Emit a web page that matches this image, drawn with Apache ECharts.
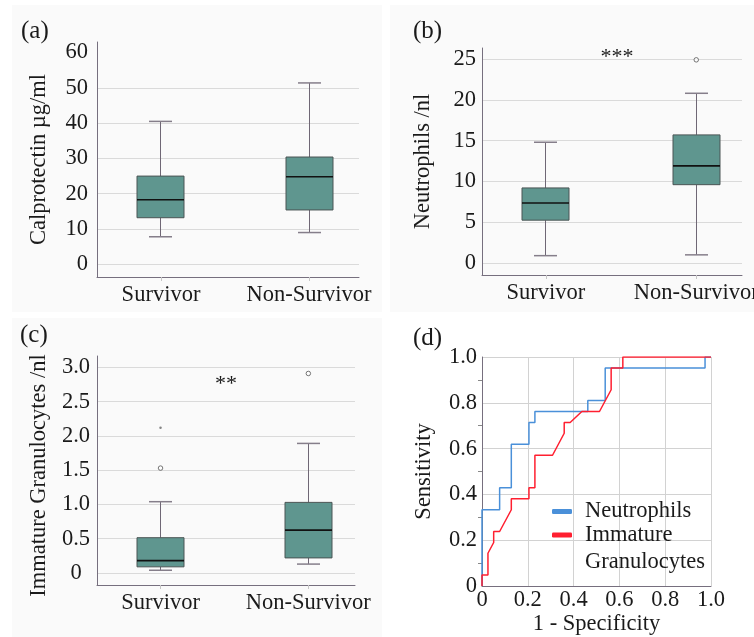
<!DOCTYPE html>
<html><head><meta charset="utf-8">
<script src="https://cdn.jsdelivr.net/npm/echarts@6/dist/echarts.min.js"></script>
<style>html,body{margin:0;padding:0;background:#fff}#c{width:754px;height:637px}</style>
</head><body><div id="c"></div>
<script>
// ---------------- data ----------------
const categories = ['Survivor', 'Non-Survivor'];
// each box: [lower whisker, Q1, median, Q3, upper whisker]
const calprotectinBoxes = [[7.8, 13.2, 18.3, 25.0, 40.5], [9.0, 15.4, 24.8, 30.4, 51.4]];
const neutrophilBoxes   = [[0.9, 5.25, 7.35, 9.2, 14.8], [1.0, 9.6, 11.9, 15.7, 20.8]];
const neutrophilOutliers = [[1, 24.9]];
const igBoxes = [[0.04, 0.09, 0.18, 0.515, 1.04], [0.13, 0.22, 0.625, 1.03, 1.89]];
const igOutliers = [[0, 1.53], [1, 2.91]];
const igExtremes = [[0, 2.12]];
const calTicks = [0, 10, 20, 30, 40, 50, 60];
const calGridTicks = [0, 10, 20, 30, 40, 50];
const neuTicks = [0, 5, 10, 15, 20, 25];
const igTicks = [0, 0.5, 1.0, 1.5, 2.0, 2.5, 3.0];
const rocTicks = [0, 0.2, 0.4, 0.6, 0.8, 1.0];
// ROC curves: [1 - specificity, sensitivity]
const rocNeutrophils = [[0,0],[0,0.333],[0.077,0.333],[0.077,0.429],[0.128,0.429],[0.128,0.619],
  [0.205,0.619],[0.205,0.714],[0.231,0.714],[0.231,0.762],[0.462,0.762],[0.462,0.810],
  [0.538,0.810],[0.538,0.952],[0.974,0.952],[0.974,1],[1,1]];
const rocIG = [[0,0],[0,0.048],[0.026,0.048],[0.026,0.143],[0.051,0.190],[0.051,0.238],
  [0.077,0.238],[0.128,0.333],[0.128,0.381],[0.205,0.381],[0.205,0.429],[0.231,0.429],
  [0.231,0.571],[0.308,0.571],[0.359,0.667],[0.359,0.714],[0.385,0.714],[0.436,0.762],
  [0.513,0.762],[0.564,0.857],[0.564,0.952],[0.615,0.952],[0.615,1],[1,1]];

// ---------------- style ----------------
const SERIF = '"Liberation Serif", "Times New Roman", serif';
const TXT = '#1a1a1a';
const AXIS = '#766f7e';
const GRIDC = '#dadada';
const BOXFILL = '#5f968f';
const BOXLINE = '#4a5454';
const WHISK = '#6f6775';
const BOXW = 47, CAPW = 23;

const chart = echarts.init(document.getElementById('c'));

function crisp(v) { return Math.round(v - 0.5) + 0.5; }

function boxRender(params, api) {
  const x = api.value(0);
  const pLo = api.coord([x, api.value(1)]);
  const pQ1 = api.coord([x, api.value(2)]);
  const pMed = api.coord([x, api.value(3)]);
  const pQ3 = api.coord([x, api.value(4)]);
  const pHi = api.coord([x, api.value(5)]);
  const cx = crisp(pLo[0]);
  const ws = {stroke: WHISK, lineWidth: 1};
  const cs = {stroke: '#857e8a', lineWidth: 1.5};
  return {type: 'group', children: [
    {type: 'line', shape: {x1: cx, y1: pHi[1], x2: cx, y2: pQ3[1]}, style: ws},
    {type: 'line', shape: {x1: cx, y1: pQ1[1], x2: cx, y2: pLo[1]}, style: ws},
    {type: 'line', shape: {x1: cx - CAPW / 2, y1: pHi[1], x2: cx + CAPW / 2, y2: pHi[1]}, style: cs},
    {type: 'line', shape: {x1: cx - CAPW / 2, y1: pLo[1], x2: cx + CAPW / 2, y2: pLo[1]}, style: cs},
    {type: 'rect', shape: {x: cx - BOXW / 2, y: pQ3[1], width: BOXW, height: pQ1[1] - pQ3[1]},
      style: {fill: BOXFILL, stroke: BOXLINE, lineWidth: 1}},
    {type: 'line', shape: {x1: cx - BOXW / 2, y1: pMed[1], x2: cx + BOXW / 2, y2: pMed[1]},
      style: {stroke: '#111', lineWidth: 1.6}}
  ]};
}

function boxData(boxes) { return boxes.map((b, i) => [i].concat(b)); }

function catXAxis(gi, min, max) {
  return {
    type: 'value', gridIndex: gi, min: min, max: max,
    axisLine: {show: true, onZero: false, lineStyle: {color: AXIS, width: 1}},
    axisTick: {show: true, customValues: [0, 1], length: 4, lineStyle: {color: '#c6c6c6'}},
    axisLabel: {customValues: [0, 1], formatter: v => categories[Math.round(v)],
      color: TXT, fontSize: 22.5, fontFamily: SERIF, margin: 7, hideOverlap: false},
    splitLine: {show: false}
  };
}

function valYAxis(gi, min, max, labelVals, gridVals, name, gap, margin, align, nameSize, namePad, fmt) {
  return {
    type: 'value', gridIndex: gi, min: min, max: max,
    axisLine: {show: true, onZero: false, lineStyle: {color: AXIS, width: 1}},
    axisTick: {show: false, customValues: gridVals},
    axisLabel: {customValues: labelVals, color: TXT, fontSize: 22.5, fontFamily: SERIF,
      margin: margin, align: align, formatter: fmt},
    splitLine: {show: true, lineStyle: {color: GRIDC, width: 1}},
    name: name, nameLocation: 'middle', nameGap: gap,
    nameTextStyle: {color: TXT, fontSize: nameSize, fontFamily: SERIF, padding: namePad}
  };
}

const bgRects = [
  [12, 5, 370, 307], [390, 5, 364, 307], [12, 318, 370, 319]
].map(r => ({type: 'rect', silent: true, z: -100,
  shape: {x: r[0], y: r[1], width: r[2], height: r[3]}, style: {fill: '#fafafa'}}));

function gtext(txt, x, y, size, align) {
  return {type: 'text', x: x, y: y, z: 10, silent: true,
    style: {text: txt, font: size + 'px ' + SERIF, fill: TXT, align: align || 'left', verticalAlign: 'middle'}};
}

const option = {
  backgroundColor: '#ffffff',
  animation: false,
  graphic: bgRects.concat([
    gtext('(a)', 21, 31, 25), gtext('(b)', 413, 31, 25),
    gtext('(c)', 20, 335, 25), gtext('(d)', 413, 338, 25),
    gtext('***', 617, 57, 22, 'center'), gtext('**', 226, 384, 22, 'center')
  ]),
  grid: [
    {left: 97, right: 395, top: 42, bottom: 360, outerBoundsMode: 'none', containLabel: false},
    {left: 482, right: 12, top: 48, bottom: 362, outerBoundsMode: 'none', containLabel: false},
    {left: 97, right: 399, top: 356, bottom: 52, outerBoundsMode: 'none', containLabel: false},
    {left: 482, right: 43, top: 357, bottom: 51, outerBoundsMode: 'none', containLabel: false}
  ],
  xAxis: [
    catXAxis(0, -0.4324, 1.3378),
    catXAxis(1, -0.4238, 1.304),
    catXAxis(2, -0.4297, 1.3155),
    {type: 'value', gridIndex: 3, min: 0, max: 1, interval: 0.2,
      axisLine: {show: true, onZero: false, lineStyle: {color: AXIS}},
      axisTick: {show: false},
      axisLabel: {color: TXT, fontSize: 22.5, fontFamily: SERIF, margin: 3,
        formatter: v => v === 0 ? '0' : v.toFixed(1)},
      splitLine: {show: true, lineStyle: {color: '#d2d2d2'}},
      name: '1 - Specificity', nameLocation: 'middle', nameGap: 25,
      nameTextStyle: {color: TXT, fontSize: 22.5, fontFamily: SERIF}}
  ],
  yAxis: [
    valYAxis(0, -3.6, 63, calTicks, calGridTicks, 'Calprotectin µg/ml', 46, 9, 'right', 22.5, 0),
    valYAxis(1, -1.47, 26.35, neuTicks, neuTicks, 'Neutrophils /nl', 47, 6, 'right', 22.5, 0),
    valYAxis(2, -0.175, 3.165, igTicks, igTicks, 'Immature Granulocytes /nl', 46, 21, 'center', 22.5,
      [0, 10, 0, 0], v => v === 0 ? '0' : v.toFixed(1)),
    {type: 'value', gridIndex: 3, min: 0, max: 1, interval: 0.2,
      axisLine: {show: true, onZero: false, lineStyle: {color: AXIS}},
      axisTick: {show: false},
      minorTick: {show: true, splitNumber: 2, length: 4, lineStyle: {color: '#888'}},
      axisLabel: {color: TXT, fontSize: 22.5, fontFamily: SERIF, margin: 5,
        formatter: v => v === 0 ? '0' : v.toFixed(1)},
      splitLine: {show: true, lineStyle: {color: '#d2d2d2'}},
      name: 'Sensitivity', nameLocation: 'middle', nameGap: 46,
      nameTextStyle: {color: TXT, fontSize: 22.5, fontFamily: SERIF}}
  ],
  legend: [
    {data: ['Neutrophils'], left: 552, top: 500, padding: 0, icon: 'roundRect',
      itemWidth: 20, itemHeight: 5,
      textStyle: {color: TXT, fontSize: 22.5, fontFamily: SERIF, lineHeight: 22,
        padding: [0, 0, 0, 8], backgroundColor: 'rgba(0,0,0,0)'}},
    {data: ['Immature Granulocytes'], left: 552, top: 494.5, padding: 0, icon: 'roundRect',
      itemWidth: 20, itemHeight: 5,
      formatter: () => ' \nImmature\nGranulocytes',
      textStyle: {color: TXT, fontSize: 22.5, fontFamily: SERIF, lineHeight: 27,
        padding: [0, 0, 0, 8], backgroundColor: 'rgba(0,0,0,0)'}}
  ],
  series: [
    {type: 'custom', name: 'Calprotectin', xAxisIndex: 0, yAxisIndex: 0, renderItem: boxRender,
      encode: {x: 0, y: [1, 2, 3, 4, 5]}, data: boxData(calprotectinBoxes)},
    {type: 'custom', name: 'Neutrophil box', xAxisIndex: 1, yAxisIndex: 1, renderItem: boxRender,
      encode: {x: 0, y: [1, 2, 3, 4, 5]}, data: boxData(neutrophilBoxes)},
    {type: 'scatter', xAxisIndex: 1, yAxisIndex: 1, data: neutrophilOutliers, symbolSize: 4.5,
      itemStyle: {color: '#ffffff', borderColor: '#555', borderWidth: 1}},
    {type: 'custom', name: 'IG box', xAxisIndex: 2, yAxisIndex: 2, renderItem: boxRender,
      encode: {x: 0, y: [1, 2, 3, 4, 5]}, data: boxData(igBoxes)},
    {type: 'scatter', xAxisIndex: 2, yAxisIndex: 2, data: igOutliers, symbolSize: 4.5,
      itemStyle: {color: '#ffffff', borderColor: '#555', borderWidth: 1}},
    {type: 'scatter', xAxisIndex: 2, yAxisIndex: 2, data: igExtremes, symbolSize: 2.5,
      itemStyle: {color: '#666'}},
    {type: 'line', name: 'Neutrophils', xAxisIndex: 3, yAxisIndex: 3, data: rocNeutrophils,
      showSymbol: false, symbol: 'none', color: '#4a90d9', lineStyle: {width: 1.5, color: '#4a90d9'}},
    {type: 'line', name: 'Immature Granulocytes', xAxisIndex: 3, yAxisIndex: 3, data: rocIG,
      showSymbol: false, symbol: 'none', color: '#ff1f30', lineStyle: {width: 1.5, color: '#ff1f30'}}
  ]
};
chart.setOption(option);
</script>
</body></html>
